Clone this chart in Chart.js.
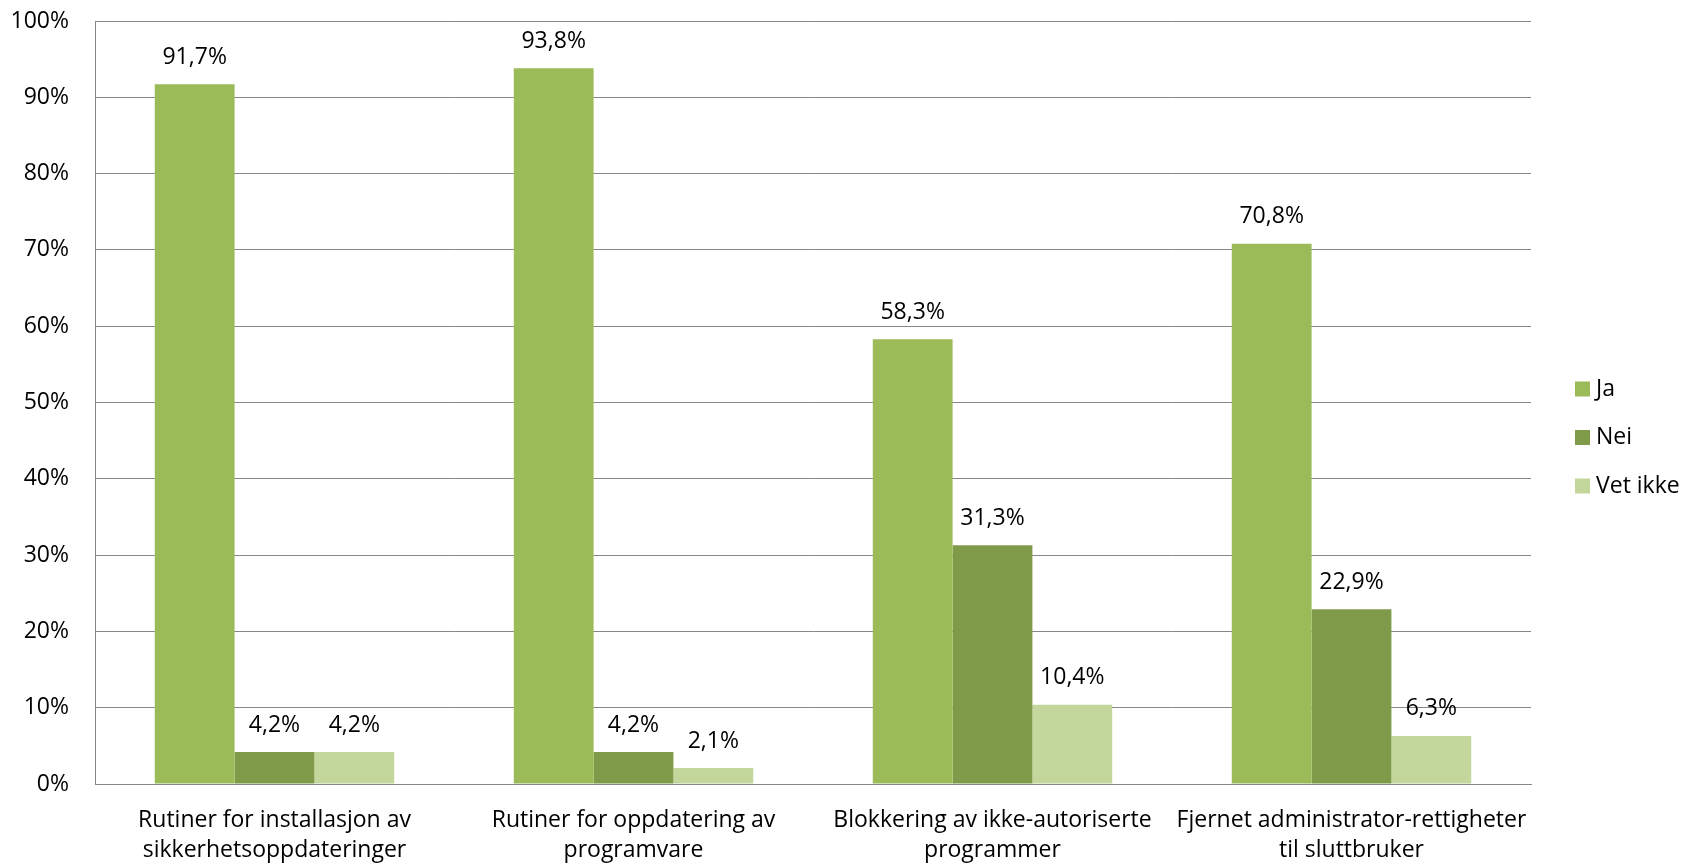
<!DOCTYPE html>
<html>
<head>
<meta charset="utf-8">
<script src="https://cdn.jsdelivr.net/npm/chart.js@4"></script>
<style>
  body { margin: 0; background: #fff; }
</style>
</head>
<body>
<canvas id="chart" width="1687" height="865"></canvas>
<script>
// Kategorier
const categories = [
    ['Rutiner for installasjon av', 'sikkerhetsoppdateringer'],
    ['Rutiner for oppdatering av', 'programvare'],
    ['Blokkering av ikke-autoriserte', 'programmer'],
    ['Fjernet administrator-rettigheter', 'til sluttbruker']
];

// Verdier (%)
const ja = [91.7, 93.8, 58.3, 70.8];
const nei = [4.2, 4.2, 31.3, 22.9];
const vetIkke = [4.2, 2.1, 10.4, 6.3];

const seriesNames = ['Ja', 'Nei', 'Vet ikke'];
const seriesColors = ['#9BBB59', '#7F9A48', '#C3D69B'];

const font = { family: '"Open Sans", sans-serif', size: 23 };
const gridColor = '#878787';

// Skriver verdien over hver søyle
const valueLabels = {
    id: 'valueLabels',
    afterDatasetsDraw(chart) {
        const c = chart.ctx;
        c.save();
        c.font = `${font.size}px ${font.family}`;
        c.fillStyle = '#000';
        c.textAlign = 'center';
        c.textBaseline = 'middle';
        chart.data.datasets.forEach((ds, i) => {
            chart.getDatasetMeta(i).data.forEach((bar, j) => {
                c.fillText(ds.data[j].toFixed(1).replace('.', ',') + '%', bar.x, bar.y - 27);
            });
        });
        c.restore();
    }
};

// Legende til høyre for plottet
const sideLegend = {
    id: 'sideLegend',
    afterDraw(chart) {
        const c = chart.ctx;
        const x = chart.chartArea.right + 44;
        c.save();
        c.font = `${font.size}px ${font.family}`;
        c.textBaseline = 'middle';
        chart.data.datasets.forEach((ds, i) => {
            const y = 389 + i * 48.5;
            c.fillStyle = ds.backgroundColor;
            c.fillRect(x, y - 7.5, 15, 15);
            c.fillStyle = '#000';
            c.fillText(ds.label, x + 21, y);
        });
        c.restore();
    }
};

new Chart(document.getElementById('chart'), {
    type: 'bar',
    data: {
        labels: categories,
        datasets: [ja, nei, vetIkke].map((data, i) => ({
            label: seriesNames[i],
            data: data,
            backgroundColor: seriesColors[i],
            barPercentage: 1,
            categoryPercentage: 0.667
        }))
    },
    options: {
        responsive: false,
        animation: false,
        layout: { padding: { top: 21, right: 156, bottom: 0, left: 0 } },
        plugins: {
            legend: { display: false },
            tooltip: { enabled: false }
        },
        scales: {
            x: {
                afterFit(scale) { scale.height = 81; },
                grid: { display: false, drawTicks: false },
                border: { color: gridColor, width: 1 },
                ticks: {
                    font: { ...font, lineHeight: 30 / 23 },
                    color: '#000',
                    padding: 21,
                    maxRotation: 0,
                    autoSkip: false
                }
            },
            y: {
                min: 0,
                max: 100,
                afterFit(scale) {
                    scale.width = 95;
                    scale.paddingTop = 0;
                    scale.paddingBottom = 0;
                },
                grid: { color: gridColor, drawTicks: false },
                border: { color: gridColor, width: 1 },
                ticks: {
                    stepSize: 10,
                    font: font,
                    color: '#000',
                    padding: 26,
                    callback: v => v + '%'
                }
            }
        }
    },
    plugins: [valueLabels, sideLegend]
});
</script>
</body>
</html>
